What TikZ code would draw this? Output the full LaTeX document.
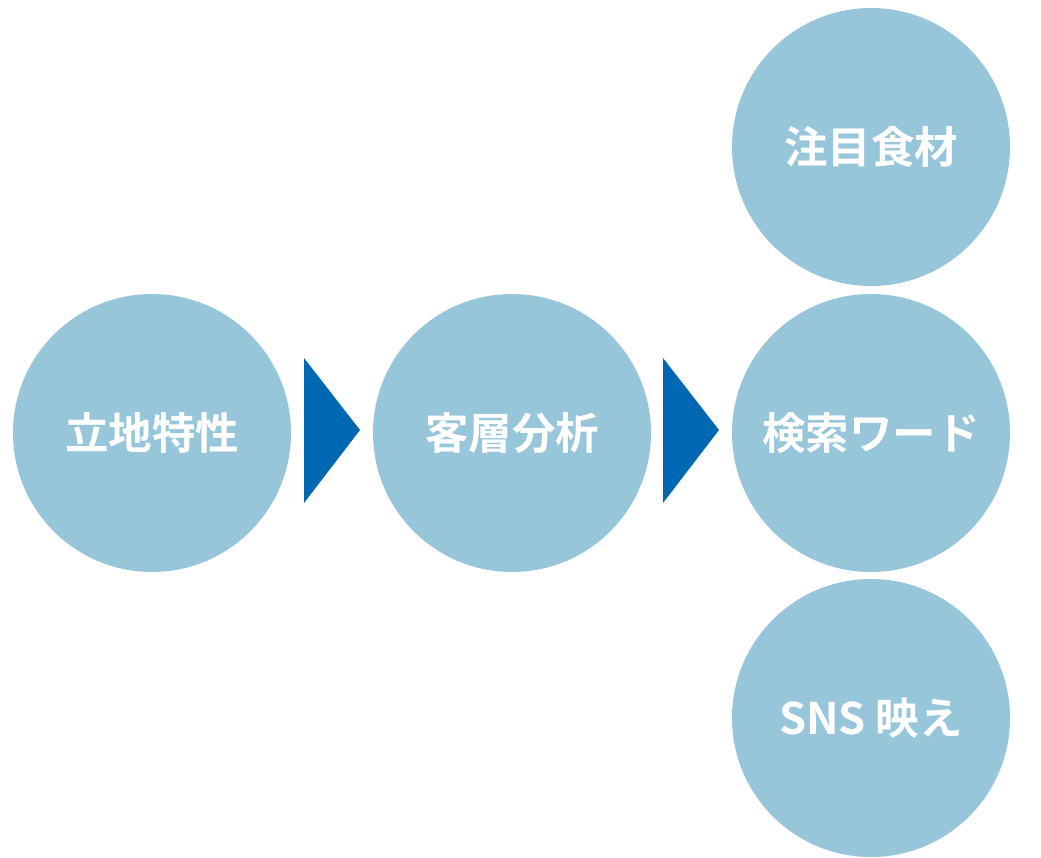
\documentclass[tikz,border=0pt]{standalone}
\usepackage{fontspec}
\newfontfamily\cjk{Noto Sans CJK JP Bold}
\definecolor{circ}{HTML}{97C5DA}
\definecolor{tri}{HTML}{0068B2}
\begin{document}
\begin{tikzpicture}[x=1pt,y=-1pt,
  bubble/.style={circle,fill=circ,minimum size=278pt,inner sep=0pt,text=white,font=\cjk\fontsize{43.5}{43.5}\selectfont},
  arrowtri/.style={fill=tri}]
\useasboundingbox (0,0) rectangle (1041,857);
\node[bubble] (a) at (152,433) {\raisebox{1.5pt}{立地特性}};
\node[bubble] (b) at (512,433) {\raisebox{1.5pt}{客層分析}};
\node[bubble] (c1) at (871,147) {\raisebox{1.5pt}{注目食材}};
\node[bubble] (c2) at (871,433) {\raisebox{1.5pt}{検索ワード}};
\node[bubble] (c3) at (871,718) {\raisebox{1.5pt}{SNS 映え}};
\coordinate (t1a) at (304,358);
\coordinate (t1b) at (360,430);
\coordinate (t1c) at (304,503);
\coordinate (t2a) at (663,358);
\coordinate (t2b) at (719,430);
\coordinate (t2c) at (663,503);
\fill[arrowtri] (t1a) -- (t1b) -- (t1c) -- cycle;
\fill[arrowtri] (t2a) -- (t2b) -- (t2c) -- cycle;
\end{tikzpicture}
\end{document}
